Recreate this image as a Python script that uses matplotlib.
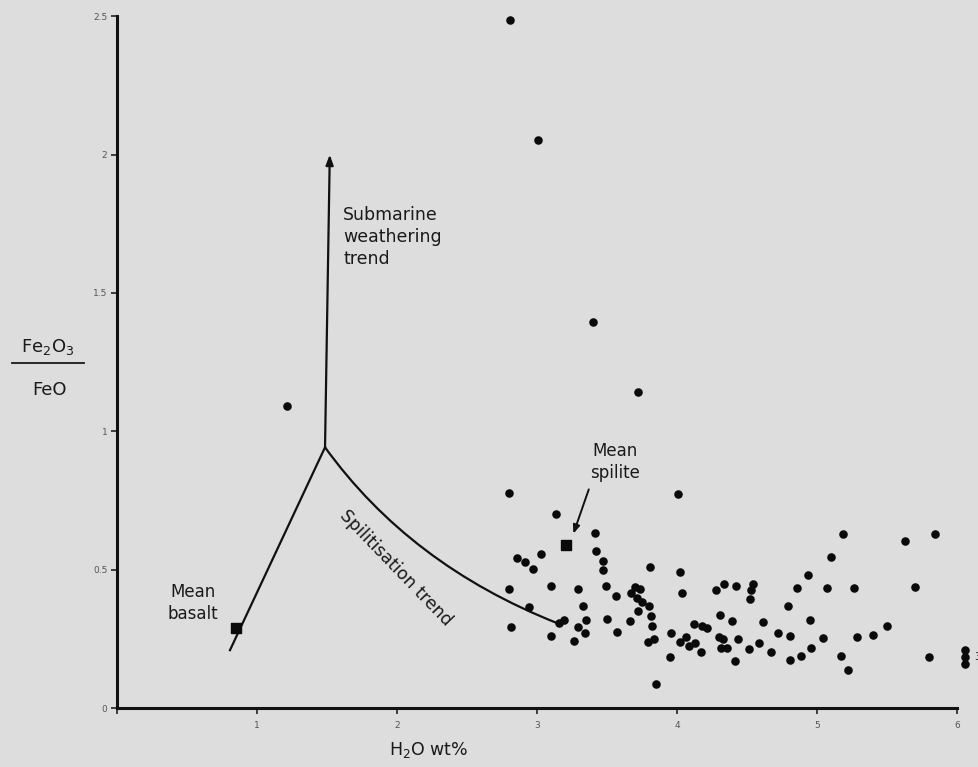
import matplotlib
matplotlib.use("Agg")
import matplotlib.pyplot as plt
from matplotlib.path import Path
from matplotlib.patches import PathPatch

# ---- data ----
h2o = [1.214, 2.807, 3.007, 3.400, 3.721, 2.800, 3.136, 4.007, 3.414, 3.029,
       2.857, 2.914, 2.971, 3.421, 3.471, 3.471, 3.807, 4.021, 2.800, 3.100,
       3.293, 3.493, 3.564, 4.036, 2.943, 3.329, 2.814, 3.157, 3.193, 3.350,
       3.500, 3.293, 3.343, 3.100, 3.264, 3.571, 3.700, 3.736, 3.671, 3.714,
       3.750, 3.800, 3.721, 3.814, 3.664, 3.821, 3.957, 3.793, 3.836, 3.950,
       4.021, 4.064, 4.086, 4.129, 4.121, 4.179, 4.214, 4.171, 4.279, 4.336,
       4.421, 4.307, 4.393, 4.300, 4.329, 4.314, 4.357, 4.436, 4.414, 3.850,
       4.543, 4.529, 4.521, 4.614, 4.514, 4.586, 4.671, 4.721, 4.807, 4.807,
       4.886, 4.957, 4.950, 4.793, 4.857, 4.936, 5.186, 5.100, 5.071, 5.264,
       5.043, 5.171, 5.221, 5.286, 5.629, 5.843, 5.700, 5.500, 5.400, 5.800,
       6.057, 6.057, 6.057]
ratio = [1.090, 2.487, 2.054, 1.394, 1.141, 0.776, 0.700, 0.773, 0.632, 0.556,
         0.542, 0.527, 0.502, 0.567, 0.531, 0.498, 0.509, 0.491, 0.430, 0.440,
         0.430, 0.440, 0.404, 0.415, 0.365, 0.368, 0.292, 0.307, 0.318, 0.318,
         0.321, 0.292, 0.271, 0.260, 0.242, 0.274, 0.437, 0.430, 0.415, 0.397,
         0.383, 0.368, 0.350, 0.332, 0.314, 0.296, 0.271, 0.238, 0.249, 0.184,
         0.238, 0.256, 0.224, 0.235, 0.303, 0.296, 0.289, 0.202, 0.426, 0.448,
         0.440, 0.336, 0.314, 0.256, 0.249, 0.217, 0.217, 0.249, 0.170, 0.087,
         0.448, 0.426, 0.394, 0.310, 0.213, 0.235, 0.202, 0.271, 0.260, 0.173,
         0.188, 0.217, 0.318, 0.368, 0.433, 0.480, 0.628, 0.545, 0.433, 0.433,
         0.253, 0.188, 0.137, 0.256, 0.603, 0.628, 0.437, 0.296, 0.264, 0.184,
         0.209, 0.184, 0.159]

mean_basalt = (0.85, 0.29)
mean_spilite = (3.21, 0.59)
junction = (1.486, 0.942)
basalt_start = (0.807, 0.209)
weathering_end = (1.52, 2.0)
# spilitisation trend: quadratic curve (start, control, end)
spil_start = (1.486, 0.942)
spil_ctrl = (2.093, 0.517)
spil_end = (3.143, 0.307)

xticks = [0, 1, 2, 3, 4, 5, 6]
xtick_labels = ["", "1", "2", "3", "4", "5", "6"]
yticks = [0, 0.5, 1, 1.5, 2, 2.5]
ytick_labels = ["0", "0.5", "1", "1.5", "2", "2.5"]

bg = "#dddddd"
fig = plt.figure(figsize=(9.79, 7.67), dpi=100, facecolor=bg)
ax = fig.add_axes([0.1195, 0.0769, 0.858, 0.902])
ax.set_facecolor(bg)
ax.set_xlim(0, 6)
ax.set_ylim(0, 2.5)
for s in ["top", "right"]:
    ax.spines[s].set_visible(False)
for s in ["left", "bottom"]:
    ax.spines[s].set_linewidth(2.2)
    ax.spines[s].set_color("#111111")

ax.set_xticks(xticks)
ax.set_xticklabels(xtick_labels)
ax.set_yticks(yticks)
ax.set_yticklabels(ytick_labels)
ax.tick_params(axis="both", direction="out", length=4, width=1.2,
               labelsize=6.5, labelcolor="#555555", color="#222222", pad=3)
ax.tick_params(axis="x", pad=5)

# data points
ax.scatter(h2o, ratio, s=38, color="#0a0a0a", zorder=3, clip_on=False, linewidths=0)

# trend lines
ax.plot([basalt_start[0], junction[0]], [basalt_start[1], junction[1]],
        color="#111111", lw=1.6, zorder=2)
curve = Path([spil_start, spil_ctrl, spil_end], [Path.MOVETO, Path.CURVE3, Path.CURVE3])
ax.add_patch(PathPatch(curve, facecolor="none", edgecolor="#111111", lw=1.6, zorder=2))
ax.annotate("", xy=weathering_end, xytext=junction,
            arrowprops=dict(arrowstyle="-|>,head_length=0.6,head_width=0.22",
                            color="#111111", lw=1.6, shrinkA=0, shrinkB=0))

# mean points
ax.scatter([mean_basalt[0]], [mean_basalt[1]], marker="s", s=45, color="#0a0a0a", zorder=4)
ax.scatter([mean_spilite[0]], [mean_spilite[1]], marker="s", s=50, color="#0a0a0a", zorder=4)
ax.annotate("", xy=(3.26, 0.63), xytext=(3.37, 0.79),
            arrowprops=dict(arrowstyle="-|>,head_length=0.5,head_width=0.2",
                            color="#111111", lw=1.4, shrinkA=0, shrinkB=0))

# text annotations
tcol = "#1a1a1a"
ax.text(1.615, 1.815, "Submarine\nweathering\ntrend", fontsize=12.5, color=tcol,
        ha="left", va="top", linespacing=1.3)
ax.text(0.54, 0.38, "Mean\nbasalt", fontsize=12, color=tcol, ha="center",
        va="center", linespacing=1.3)
ax.text(3.56, 0.89, "Mean\nspilite", fontsize=12, color=tcol, ha="center",
        va="center", linespacing=1.3)
ax.text(1.99, 0.505, "Spilitisation trend", fontsize=12.5, color=tcol, ha="center",
        va="center", rotation=-46, rotation_mode="anchor")
ax.text(6.12, 0.185, "3", fontsize=8, color=tcol, ha="left", va="center", clip_on=False)

# axis labels
fig.text(0.049, 0.5476, r"Fe$_2$O$_3$", fontsize=13, ha="center", va="center", color=tcol)
fig.text(0.051, 0.4915, "FeO", fontsize=13, ha="center", va="center", color=tcol)
fig.add_artist(plt.Line2D([0.012, 0.086], [0.5267, 0.5267], color=tcol, lw=1.3,
                          transform=fig.transFigure))
fig.text(0.438, 0.022, r"H$_2$O wt%", fontsize=12.5, ha="center", va="center", color=tcol)

fig.savefig("out.png", dpi=100, facecolor=bg)
